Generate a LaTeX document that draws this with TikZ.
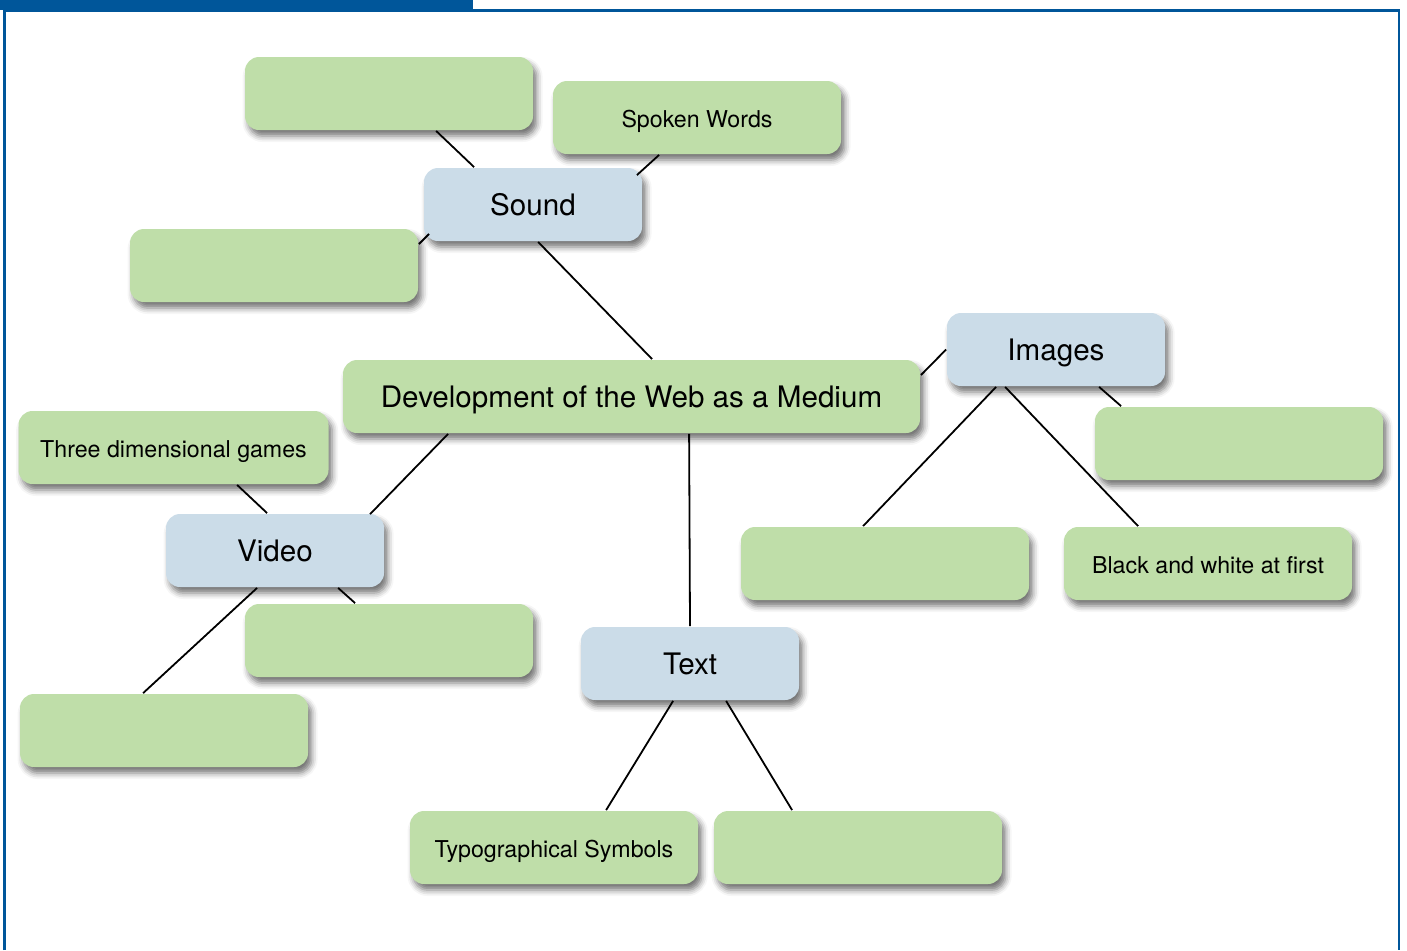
\documentclass[tikz,border=0pt]{standalone}
\usepackage{fontspec}
\setmainfont{TeX Gyre Heros}
\usetikzlibrary{calc, shadows.blur}
\definecolor{cgreen}{HTML}{BFDEA9}
\definecolor{cblue}{HTML}{CBDCE8}
\definecolor{cframe}{HTML}{00569A}
\tikzset{
  every picture/.style={x=0.5pt, y=-0.5pt, line width=0.9pt},
  card/.style={fill=#1, rounded corners=7pt, minimum height=36.5pt, inner sep=4pt, align=center, text depth=0pt,
               blur shadow={shadow xshift=1.8pt, shadow yshift=-3pt, shadow blur radius=3pt, shadow opacity=55}},
  topic/.style={card=cblue, minimum width=109pt, text height=11pt, font=\fontsize{14.8}{17}\selectfont},
  hub/.style={card=cgreen, minimum width=288.5pt, text height=11pt, font=\fontsize{14.8}{17}\selectfont},
  leaf/.style={card=cgreen, minimum width=144pt, text height=9.5pt, font=\fontsize{11.6}{14}\selectfont},
  link/.style={draw=black, line width=0.9pt},
}

\begin{document}
\begin{tikzpicture}
  \useasboundingbox (0,0) rectangle (1407,950);
  % frame
  \fill[cframe] (0,0) rectangle (473,10);
  \draw[cframe, line width=1.35pt] (4.7,950) -- (4.7,10.5) -- (1399,10.5) -- (1399,950);

  % centre and topics
  \node[hub] (web) at (631.5,396.5) {Development of the Web as a Medium};
  \node[topic] (sound) at (533,204.5) {Sound};
  \node[topic] (images) at (1056,349.5) {Images};
  \node[topic] (video) at (275,550.5) {Video};
  \node[topic] (text) at (690,663.5) {Text};

  % sound
  \node[leaf] (s1) at (389,93.5) {};
  \node[leaf] (spoken) at (697,117.5) {Spoken Words};
  \node[leaf] (s3) at (274,265.5) {};
  % images
  \node[leaf] (i1) at (1239,443.5) {};
  \node[leaf] (i2) at (885,563.5) {};
  \node[leaf] (bw) at (1208,563.5) {Black and white at first};
  % video
  \node[leaf, minimum width=155pt] (games) at (173.5,447.5) {Three dimensional games};
  \node[leaf] (v1) at (389,640.5) {};
  \node[leaf] (v2) at (164,730.5) {};
  % text
  \node[leaf] (typo) at (554,847.5) {Typographical Symbols};
  \node[leaf] (t1) at (858,847.5) {};

  % connectors
  \draw[link] ($(sound.north west)+(51,0)$) -- ($(s1.south west)+(192,0)$);
  \draw[link] ($(sound.north east)+(-6,8)$) -- ($(spoken.south west)+(107,0)$);
  \draw[link] ($(sound.south west)+(6,-8)$) -- ($(s3.north east)+(0,16)$);
  \draw[link] ($(sound.south west)+(115,0)$) -- ($(web.north west)+(310,0)$);
  \draw[link] ($(web.north east)+(0,16)$) -- (images.west);
  \draw[link] ($(images.south west)+(153,0)$) -- ($(i1.north west)+(27,0)$);
  \draw[link] ($(images.south west)+(50,0)$) -- ($(i2.north west)+(123,0)$);
  \draw[link] ($(images.south west)+(59,0)$) -- ($(bw.north west)+(75,0)$);
  \draw[link] ($(web.south west)+(106,0)$) -- ($(video.north west)+(205,1)$);
  \draw[link] ($(web.south west)+(347,0)$) -- (text.north);
  \draw[link] ($(video.north west)+(102,0)$) -- ($(games.south west)+(219.5,0)$);
  \draw[link] ($(video.south west)+(173,0)$) -- ($(v1.north west)+(111,0)$);
  \draw[link] ($(video.south west)+(92,0)$) -- ($(v2.north west)+(124,0)$);
  \draw[link] ($(text.south west)+(93,0)$) -- ($(typo.north west)+(197,0)$);
  \draw[link] ($(text.south west)+(146,0)$) -- ($(t1.north west)+(79,0)$);
\end{tikzpicture}
\end{document}
